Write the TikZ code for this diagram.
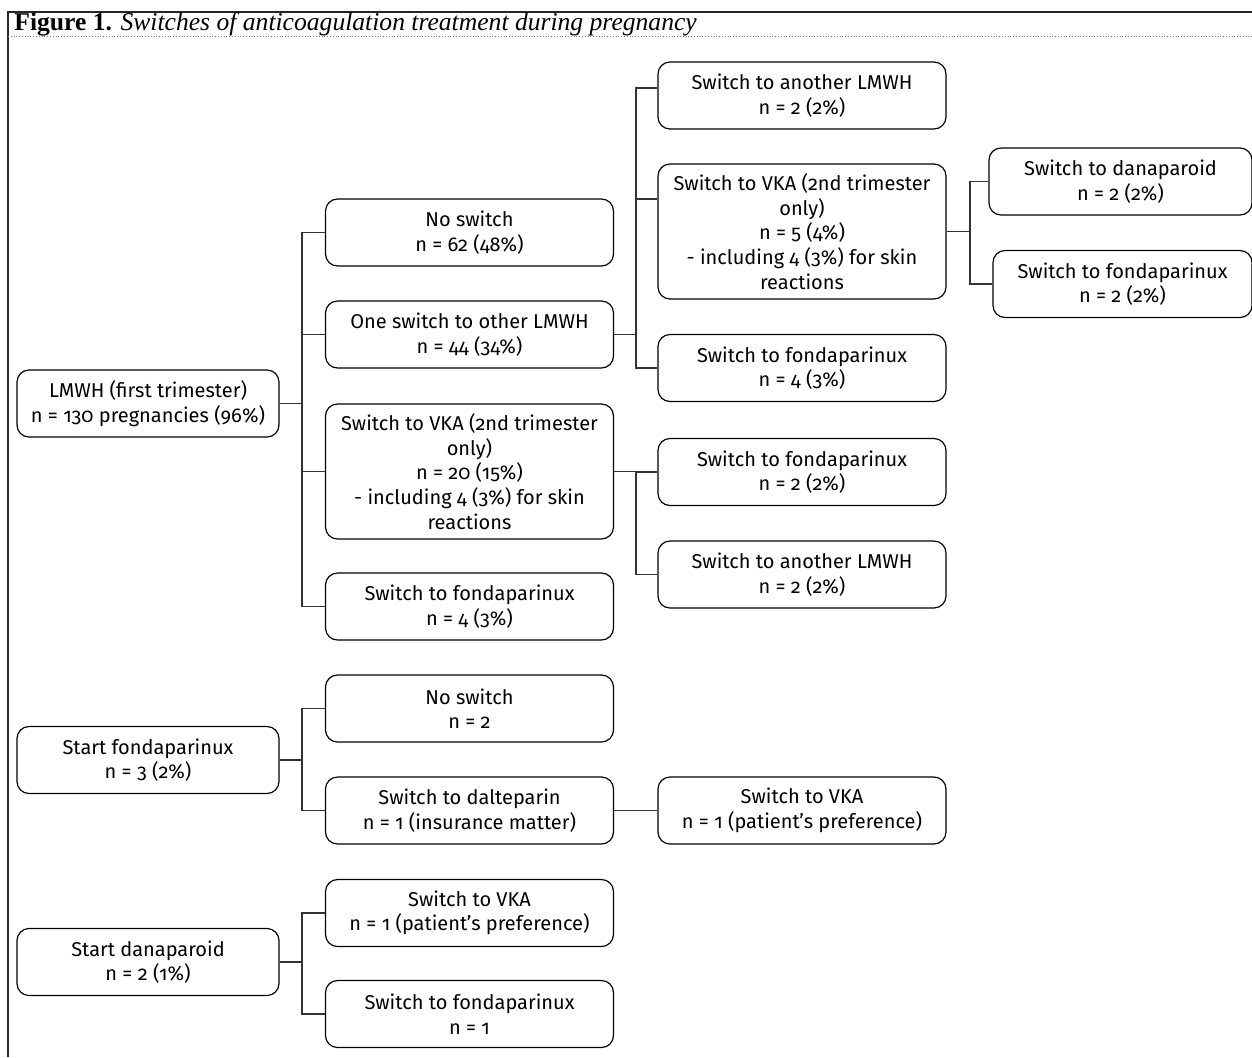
\documentclass[tikz,border=0pt]{standalone}
\usepackage{fontspec}
\newfontfamily\boxfont[Numbers=OldStyle]{Fira Sans}
\newfontfamily\titlefont{Liberation Serif}
\begin{document}
\begin{tikzpicture}[x=0.5pt, y=-0.5pt,
  box/.style={draw, line width=0.6pt, rounded corners=6pt, align=center,
    minimum width=144pt, minimum height=33.5pt, inner sep=1pt,
    font=\boxfont\fontsize{10}{12.3}\selectfont},
  rootbox/.style={box, minimum width=131pt},
  tallbox/.style={box, minimum height=67.5pt},
  link/.style={draw=black!80, line width=0.6pt}]
\useasboundingbox (0,0) rectangle (1252,1057);
% frame and title
\draw[line width=0.8pt, black!85] (8,1057) -- (8,12) -- (1252,12);
\draw[densely dotted, black!50, line width=0.4pt] (8,36) -- (1252,36);
\node[anchor=base west, inner sep=0pt, font=\titlefont\fontsize{12.8}{15}\selectfont] (title) at (14,30)
  {\textbf{Figure 1.} \textit{Switches of anticoagulation treatment during pregnancy}};
% LMWH tree
\node[rootbox] (lmwh) at (148,403.5) {LMWH (first trimester)\\n = 130 pregnancies (96\%)};
\node[box] (nosw) at (469.5,232.5) {No switch\\n = 62 (48\%)};
\node[box] (one) at (469.5,334.5) {One switch to other LMWH\\n = 44 (34\%)};
\node[tallbox] (vkaa) at (469.5,471.5) {Switch to VKA (2nd trimester\\only)\\n = 20 (15\%)\\- including 4 (3\%) for skin\\reactions};
\node[box] (fondaa) at (469.5,606.5) {Switch to fondaparinux\\n = 4 (3\%)};
\node[box] (lmwhb) at (802,95.5) {Switch to another LMWH\\n = 2 (2\%)};
\node[tallbox] (vkab) at (802,231.5) {Switch to VKA (2nd trimester\\only)\\n = 5 (4\%)\\- including 4 (3\%) for skin\\reactions};
\node[box] (fondab) at (802,368) {Switch to fondaparinux\\n = 4 (3\%)};
\node[box] (fondac) at (802,472) {Switch to fondaparinux\\n = 2 (2\%)};
\node[box] (lmwhc) at (802,574.5) {Switch to another LMWH\\n = 2 (2\%)};
\node[box, minimum width=131.5pt] (dana) at (1120.5,181.5) {Switch to danaparoid\\n = 2 (2\%)};
\node[box, minimum width=129.5pt] (fondad) at (1122.5,284) {Switch to fondaparinux\\n = 2 (2\%)};
% fondaparinux tree
\node[rootbox] (startf) at (148,760) {Start fondaparinux\\n = 3 (2\%)};
\node[box] (noswb) at (469.5,708.5) {No switch\\n = 2};
\node[box] (dalte) at (469.5,810.5) {Switch to dalteparin\\n = 1 (insurance matter)};
\node[box] (vkac) at (802,810.5) {Switch to VKA\\n = 1 (patient’s preference)};
% danaparoid tree
\node[rootbox] (startd) at (148,962) {Start danaparoid\\n = 2 (1\%)};
\node[box] (vkad) at (469.5,913) {Switch to VKA\\n = 1 (patient’s preference)};
\node[box] (fondae) at (469.5,1014) {Switch to fondaparinux\\n = 1};
% connectors
\coordinate (j1) at (302,403.5);
\coordinate (j2) at (636,334.5);
\coordinate (j3) at (636,471.5);
\coordinate (j4) at (970,231.5);
\coordinate (j5) at (302,760);
\coordinate (j6) at (302,962);
\draw[link] (lmwh.east) -- (j1);
\foreach \n in {nosw,one,vkaa,fondaa}
  \draw[link] (j1) |- (\n.west);
\draw[link] (one.east) -- (j2);
\draw[link] (j2) |- ([yshift=3.75pt]lmwhb.west);
\draw[link] (j2) |- ([yshift=16.25pt]vkab.west);
\draw[link] (j2) |- (fondab.west);
\draw[link] (vkaa.east) -- (j3);
\foreach \n in {fondac,lmwhc}
  \draw[link] (j3) |- (\n.west);
\draw[link] (vkab.east) -- (j4);
\foreach \n in {dana,fondad}
  \draw[link] (j4) |- (\n.west);
\draw[link] (startf.east) -- (j5);
\foreach \n in {noswb,dalte}
  \draw[link] (j5) |- (\n.west);
\draw[link] (dalte.east) -- (vkac.west);
\draw[link] (startd.east) -- (j6);
\foreach \n in {vkad,fondae}
  \draw[link] (j6) |- (\n.west);
\end{tikzpicture}
\end{document}
